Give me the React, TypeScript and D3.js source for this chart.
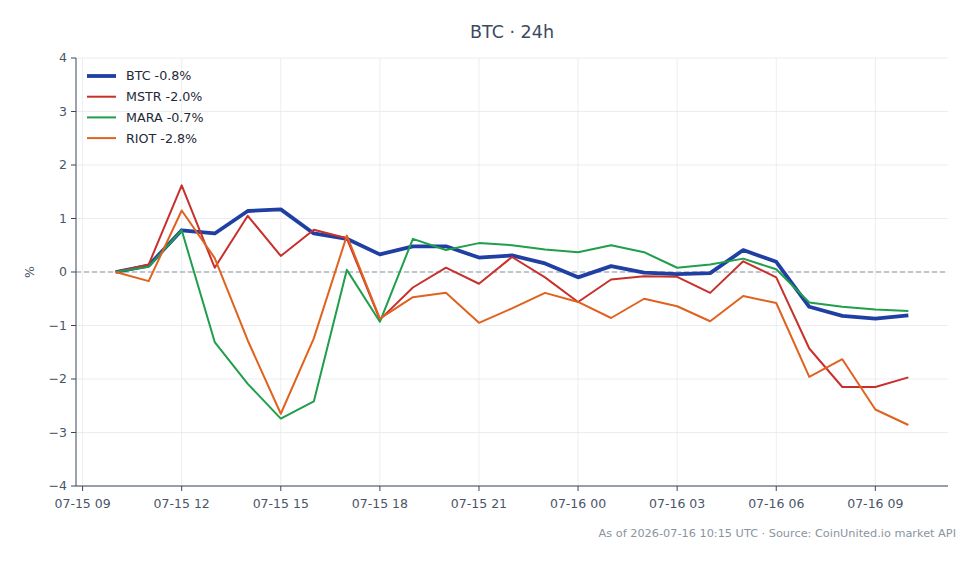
import React from "react";
import * as d3 from "d3";

const W = 980;
const H = 564;

const startTime = "2026-07-15T10:00:00Z";
const hours = d3.range(25);
const domainStart = "2026-07-15T08:48:00Z";
const domainEnd = "2026-07-16T11:12:00Z";

const btc = [0, 0.12, 0.78, 0.72, 1.14, 1.17, 0.72, 0.62, 0.33, 0.48, 0.48, 0.27, 0.31, 0.16, -0.1, 0.11, -0.01, -0.04, -0.02, 0.41, 0.19, -0.65, -0.82, -0.87, -0.81];
const mstr = [0, 0.14, 1.62, 0.08, 1.05, 0.3, 0.79, 0.63, -0.89, -0.29, 0.08, -0.22, 0.28, -0.1, -0.56, -0.14, -0.08, -0.09, -0.39, 0.2, -0.1, -1.43, -2.15, -2.15, -1.97];
const mara = [0, 0.1, 0.78, -1.31, -2.09, -2.74, -2.42, 0.04, -0.93, 0.62, 0.41, 0.54, 0.5, 0.42, 0.37, 0.5, 0.37, 0.08, 0.14, 0.25, 0.05, -0.57, -0.65, -0.7, -0.73];
const riot = [0, -0.17, 1.15, 0.26, -1.28, -2.65, -1.24, 0.68, -0.87, -0.47, -0.39, -0.95, -0.68, -0.39, -0.56, -0.86, -0.5, -0.64, -0.92, -0.45, -0.58, -1.96, -1.63, -2.57, -2.86];

const seriesNames = ["BTC", "MSTR", "MARA", "RIOT"];
const seriesValues = [btc, mstr, mara, riot];
const seriesLabels = ["BTC -0.8%", "MSTR -2.0%", "MARA -0.7%", "RIOT -2.8%"];
const seriesColors = ["#1f3fa3", "#c8302c", "#1f9e4b", "#e0621e"];
const seriesWidths = [3.8, 2, 2, 2];

const yTicks = [-4, -3, -2, -1, 0, 1, 2, 3, 4];
const xTickTimes = [
  "2026-07-15T09:00:00Z",
  "2026-07-15T12:00:00Z",
  "2026-07-15T15:00:00Z",
  "2026-07-15T18:00:00Z",
  "2026-07-15T21:00:00Z",
  "2026-07-16T00:00:00Z",
  "2026-07-16T03:00:00Z",
  "2026-07-16T06:00:00Z",
  "2026-07-16T09:00:00Z",
];

const titleText = "BTC · 24h";
const footerText = "As of 2026-07-16 10:15 UTC · Source: CoinUnited.io market API";
const yLabel = "%";

const margin = { left: 76, right: 32, top: 58, bottom: 78 };
const FONT = "'DejaVu Sans', sans-serif";

export default function App() {
  const t0 = new Date(startTime).getTime();
  const times = hours.map((h) => new Date(t0 + h * 3600 * 1000));
  const x = d3
    .scaleUtc()
    .domain([new Date(domainStart), new Date(domainEnd)])
    .range([margin.left, W - margin.right]);
  const y = d3.scaleLinear().domain([-4, 4]).range([H - margin.bottom, margin.top]);
  const fmt = d3.utcFormat("%m-%d %H");

  const line = d3
    .line<number>()
    .x((_, i) => x(times[i]))
    .y((d) => y(d));

  const x0 = margin.left;
  const x1 = W - margin.right;
  const yTop = margin.top;
  const yBot = H - margin.bottom;
  const labelColor = "#4a5568";
  const axisColor = "#3b4658";
  const gridColor = "#e6e9ee";

  return (
    <svg
      width={W}
      height={H}
      style={{ position: "absolute", left: 0, top: 0, background: "#fff" }}
      fontFamily={FONT}
    >
      <rect x={0} y={0} width={W} height={H} fill="#fff" />
      {yTicks.map((t) => (
        <line key={"gy" + t} x1={x0} x2={x1} y1={y(t)} y2={y(t)} stroke={gridColor} strokeWidth={0.8} />
      ))}
      {xTickTimes.map((t) => (
        <line key={"gx" + t} x1={x(new Date(t))} x2={x(new Date(t))} y1={yTop} y2={yBot} stroke={gridColor} strokeWidth={0.8} />
      ))}
      <line x1={x0} x2={x1} y1={y(0)} y2={y(0)} stroke="#8a97a8" strokeWidth={1} strokeDasharray="5,3" />
      {seriesValues.map((vals, i) => (
        <path
          key={seriesNames[i]}
          d={line(vals) || ""}
          fill="none"
          stroke={seriesColors[i]}
          strokeWidth={seriesWidths[i]}
          strokeLinejoin="round"
          strokeLinecap="butt"
        />
      ))}
      <line x1={x0} x2={x0} y1={yTop} y2={yBot} stroke={axisColor} strokeWidth={1} />
      <line x1={x0} x2={x1} y1={yBot} y2={yBot} stroke={axisColor} strokeWidth={1} />
      {yTicks.map((t) => (
        <g key={"yt" + t}>
          <line x1={x0 - 5} x2={x0} y1={y(t)} y2={y(t)} stroke={axisColor} strokeWidth={1} />
          <text x={x0 - 9} y={y(t)} dy="0.35em" textAnchor="end" fontSize={12.5} fill={labelColor}>
            {t < 0 ? "\u2212" + Math.abs(t) : String(t)}
          </text>
        </g>
      ))}
      {xTickTimes.map((t) => {
        const xx = x(new Date(t));
        return (
          <g key={"xt" + t}>
            <line x1={xx} x2={xx} y1={yBot} y2={yBot + 5} stroke={axisColor} strokeWidth={1} />
            <text x={xx} y={yBot + 22} textAnchor="middle" fontSize={12.5} fill={labelColor}>
              {fmt(new Date(t))}
            </text>
          </g>
        );
      })}
      <text
        transform={`translate(34, ${y(0)}) rotate(-90)`}
        textAnchor="middle"
        fontSize={12.5}
        fill={labelColor}
      >
        {yLabel}
      </text>
      <text x={(x0 + x1) / 2} y={38} textAnchor="middle" fontSize={17.5} fill="#3b4a5e">
        {titleText}
      </text>
      {seriesLabels.map((lab, i) => (
        <g key={"lg" + i}>
          <line x1={87} x2={116} y1={76 + i * 20.7} y2={76 + i * 20.7} stroke={seriesColors[i]} strokeWidth={seriesWidths[i]} />
          <text x={126} y={76 + i * 20.7} dy="0.35em" fontSize={12.7} fill="#1f2937">
            {lab}
          </text>
        </g>
      ))}
      <text x={956} y={537} textAnchor="end" fontSize={11.3} fill="#8a949f">
        {footerText}
      </text>
    </svg>
  );
}
